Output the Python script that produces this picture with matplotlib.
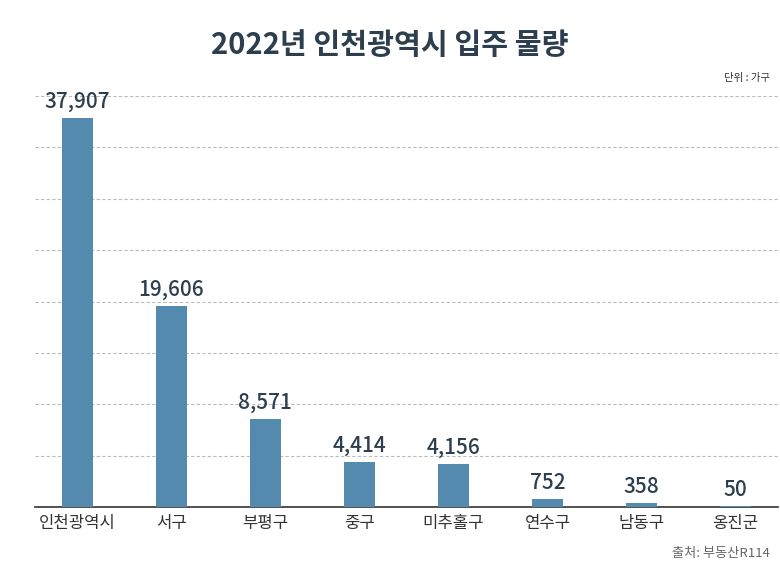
import matplotlib
matplotlib.use("Agg")
import matplotlib.pyplot as plt

categories = ["인천광역시", "서구", "부평구", "중구", "미추홀구", "연수구", "남동구", "옹진군"]
values = [37907, 19606, 8571, 4414, 4156, 752, 358, 50]

plt.rcParams["font.family"] = ["Noto Sans CJK KR", "Noto Sans CJK JP", "Noto Sans CJK SC",
                               "Noto Sans CJK TC", "DejaVu Sans"]
fig = plt.figure(figsize=(7.8, 5.72), dpi=100)
ax = fig.add_axes([35/780, 1-507/572, 743/780, 411/572])
x = range(len(categories))
ax.bar(x, values, width=0.33, color="#558aaf", zorder=3)
ax.set_ylim(0, 40000)
ax.set_xlim(-0.45, len(categories) - 0.55)
ax.set_yticks(range(0, 40001, 5000))
ax.yaxis.grid(True, linestyle=(0, (3, 2)), color="#bbbbbb", linewidth=0.8)
ax.tick_params(axis="y", left=False, labelleft=False)
ax.tick_params(axis="x", length=0, pad=6)
ax.set_xticks(list(x))
ax.set_xticklabels(categories, fontsize=12, color="#333333")
for s in ["top", "right", "left"]:
    ax.spines[s].set_visible(False)
ax.spines["bottom"].set_color("#333333")
ax.spines["bottom"].set_linewidth(1.2)
for i, v in zip(x, values):
    ax.text(i, v + 500, f"{v:,}", ha="center", va="bottom", fontsize=15,
            fontweight="medium", color="#2d3e4e")
fig.text(0.5, 1-45/572, "2022년 인천광역시 입주 물량", ha="center", va="center",
         fontsize=21, fontweight="bold", color="#2d3e4e")
fig.text(770/780, 1-78/572, "단위 : 가구", ha="right", va="center", fontsize=7.5, color="#333333")
fig.text(770/780, 1-553/572, "출처: 부동산R114", ha="right", va="center", fontsize=9.5, color="#666666")
fig.savefig("out.png", dpi=100)
